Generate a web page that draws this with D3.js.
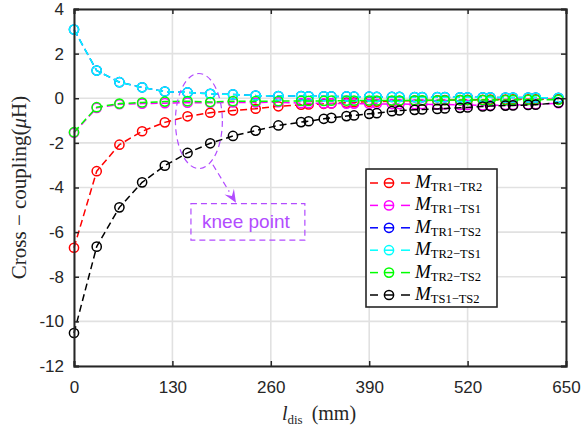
<!DOCTYPE html>
<html><head><meta charset="utf-8">
<script src="https://cdn.jsdelivr.net/npm/d3@7"></script>
<style>body{margin:0;background:#fff}svg{display:block}</style>
</head><body>
<svg id="c" width="581" height="429"></svg>
<script>
// ---------- data ----------
const xs = [0,30,60,90,120,150,180,210,240,270,300,310,330,340,360,370,390,400,420,430,450,460,480,490,510,520,540,550,570,580,600,610,640];
const mTR1TR2 = [-6.70,-3.27,-2.08,-1.48,-1.08,-0.81,-0.65,-0.55,-0.47,-0.36,-0.29,-0.28,-0.25,-0.23,-0.20,-0.18,-0.16,-0.15,-0.13,-0.12,-0.11,-0.10,-0.09,-0.08,-0.08,-0.07,-0.07,-0.06,-0.06,-0.05,-0.05,-0.05,-0.04];
const mTR1TS1 = [-1.55,-0.43,-0.27,-0.24,-0.22,-0.20,-0.20,-0.19,-0.19,-0.18,-0.22,-0.22,-0.23,-0.23,-0.24,-0.24,-0.25,-0.25,-0.26,-0.26,-0.27,-0.27,-0.28,-0.28,-0.30,-0.30,-0.32,-0.32,-0.30,-0.30,-0.28,-0.27,-0.22];
const mTR1TS2 = [3.08,1.24,0.72,0.49,0.30,0.26,0.20,0.17,0.12,0.10,0.10,0.09,0.09,0.08,0.08,0.07,0.07,0.06,0.06,0.06,0.05,0.05,0.05,0.05,0.04,0.04,0.04,0.04,0.03,0.03,0.03,0.03,0.02];
const mTR2TS1 = [3.08,1.24,0.72,0.49,0.30,0.26,0.20,0.17,0.12,0.10,0.10,0.09,0.09,0.08,0.08,0.07,0.07,0.06,0.06,0.06,0.05,0.05,0.05,0.05,0.04,0.04,0.04,0.04,0.03,0.03,0.03,0.03,0.02];
const mTR2TS2 = [-1.52,-0.40,-0.24,-0.19,-0.15,-0.13,-0.17,-0.13,-0.13,-0.13,-0.12,-0.12,-0.12,-0.11,-0.11,-0.11,-0.10,-0.10,-0.10,-0.10,-0.09,-0.09,-0.09,-0.09,-0.08,-0.08,-0.08,-0.08,-0.08,-0.07,-0.07,-0.07,-0.07];
const mTS1TS2 = [-10.52,-6.65,-4.89,-3.77,-3.02,-2.45,-2.02,-1.69,-1.45,-1.22,-1.07,-1.03,-0.92,-0.88,-0.80,-0.77,-0.70,-0.67,-0.58,-0.55,-0.52,-0.50,-0.48,-0.46,-0.43,-0.41,-0.37,-0.35,-0.33,-0.32,-0.30,-0.29,-0.20];
const seriesNames = ["TR1\u2212TR2","TR1\u2212TS1","TR1\u2212TS2","TR2\u2212TS1","TR2\u2212TS2","TS1\u2212TS2"];
const seriesValues = [mTR1TR2, mTR1TS1, mTR1TS2, mTR2TS1, mTR2TS2, mTS1TS2];
const seriesColors = ["#ff0000","#ff00ff","#0000ff","#00ffff","#00ff00","#000000"];
const xTicks = [0,130,260,390,520,650];
const yTicks = [-12,-10,-8,-6,-4,-2,0,2,4];
const annotText = "knee point";
// annotation geometry in data units
const kneeEllipse = {cx:165, cy:-1.02, rx:31, ry:2.13};
const kneeArrow = {x1:183.5, y1:-2.98, x2:214, y2:-4.68};
const kneeBox = {x1:154.5, y1:-4.72, x2:305, y2:-6.36};

// ---------- layout ----------
const L = 74, R = 566, T = 9, B = 366;
const svg = d3.select("#c");
const x = d3.scaleLinear().domain([0,650]).range([L,R]);
const y = d3.scaleLinear().domain([-12,4]).range([B,T]);
const axisCol = "#262626", annCol = "#b24cff";

// grid
const g = svg.append("g");
g.selectAll(".gx").data(xTicks).join("line")
  .attr("x1",d=>x(d)).attr("x2",d=>x(d)).attr("y1",T).attr("y2",B)
  .attr("stroke","#e1e1e1").attr("stroke-width",1.6);
g.selectAll(".gy").data(yTicks).join("line")
  .attr("y1",d=>y(d)).attr("y2",d=>y(d)).attr("x1",L).attr("x2",R)
  .attr("stroke","#e1e1e1").attr("stroke-width",1.6);

// series
const lineGen = d3.line().x((d,i)=>x(xs[i])).y(d=>y(d));
seriesValues.forEach((vals,k)=>{
  const sg = svg.append("g");
  sg.append("path").attr("d",lineGen(vals)).attr("fill","none")
    .attr("stroke",seriesColors[k]).attr("stroke-width",1.5).attr("stroke-dasharray","7,4");
  sg.selectAll("circle").data(vals).join("circle")
    .attr("cx",(d,i)=>x(xs[i])).attr("cy",d=>y(d)).attr("r",4.6)
    .attr("fill","none").attr("stroke",seriesColors[k]).attr("stroke-width",1.5);
});

// axes
const fontSans = "'Liberation Sans', Arial, sans-serif";
const ax = svg.append("g").attr("transform",`translate(0,${B})`)
  .call(d3.axisBottom(x).tickValues(xTicks).tickSize(-5).tickPadding(15).tickFormat(d3.format("d")));
const axT = svg.append("g").attr("transform",`translate(0,${T})`)
  .call(d3.axisTop(x).tickValues(xTicks).tickSize(-5).tickFormat(""));
const ay = svg.append("g").attr("transform",`translate(${L},0)`)
  .call(d3.axisLeft(y).tickValues(yTicks).tickSize(-5).tickPadding(10).tickFormat(d=>String(d)));
const ayR = svg.append("g").attr("transform",`translate(${R},0)`)
  .call(d3.axisRight(y).tickValues(yTicks).tickSize(-5).tickFormat(""));
[ax,axT,ay,ayR].forEach(a=>{
  a.select(".domain").attr("stroke",axisCol).attr("stroke-width",2);
  a.selectAll(".tick line").attr("stroke",axisCol).attr("stroke-width",1.5);
  a.selectAll("text").attr("fill","#262626").style("font-family",fontSans).style("font-size","17px");
});

// axis labels
const fontSerif = "'Liberation Serif', 'Times New Roman', serif";
const xl = svg.append("text").attr("x",319).attr("y",420).attr("text-anchor","middle")
  .style("font-family",fontSerif).style("font-size","20px").attr("fill","#262626");
xl.append("tspan").style("font-style","italic").text("l");
xl.append("tspan").attr("dy",4).style("font-size","13px").text("dis");
xl.append("tspan").attr("dy",-4).text("\u2009 (mm)");

const yl = svg.append("text").attr("transform",`translate(26,${(T+B)/2}) rotate(-90)`)
  .attr("text-anchor","middle").style("font-family",fontSerif).style("font-size","21px").attr("fill","#262626");
yl.append("tspan").text("Cross \u2212 coupling(");
yl.append("tspan").style("font-style","italic").text("\u03bc");
yl.append("tspan").text("H)");

// annotation
svg.append("ellipse").attr("cx",x(kneeEllipse.cx)).attr("cy",y(kneeEllipse.cy))
  .attr("rx",x(kneeEllipse.rx)-x(0)).attr("ry",y(0)-y(kneeEllipse.ry))
  .attr("fill","none").attr("stroke",annCol).attr("stroke-width",1.2).attr("stroke-dasharray","6,4");
const ax1=x(kneeArrow.x1), ay1=y(kneeArrow.y1), ax2=x(kneeArrow.x2), ay2=y(kneeArrow.y2);
const ang = Math.atan2(ay2-ay1, ax2-ax1);
const hl = 13, hw = 5.5;
const bx = ax2-hl*Math.cos(ang), by = ay2-hl*Math.sin(ang);
svg.append("line").attr("x1",ax1).attr("y1",ay1).attr("x2",bx).attr("y2",by)
  .attr("stroke",annCol).attr("stroke-width",1.2).attr("stroke-dasharray","6,4");
svg.append("path").attr("d",`M${ax2},${ay2} L${bx+hw*Math.sin(ang)},${by-hw*Math.cos(ang)} L${ax2-0.6*hl*Math.cos(ang)},${ay2-0.6*hl*Math.sin(ang)} L${bx-hw*Math.sin(ang)},${by+hw*Math.cos(ang)} Z`)
  .attr("fill",annCol);
svg.append("rect").attr("x",x(kneeBox.x1)).attr("y",y(kneeBox.y1))
  .attr("width",x(kneeBox.x2)-x(kneeBox.x1)).attr("height",y(kneeBox.y2)-y(kneeBox.y1))
  .attr("fill","none").attr("stroke",annCol).attr("stroke-width",1.2).attr("stroke-dasharray","6,4");
svg.append("text").attr("x",(x(kneeBox.x1)+x(kneeBox.x2))/2 - 2).attr("y",(y(kneeBox.y1)+y(kneeBox.y2))/2+6)
  .attr("text-anchor","middle").style("font-family",fontSans).style("font-size","19px")
  .attr("fill",annCol).text(annotText);

// legend
const lgX = 366, lgY = 169, lgW = 131, lgH = 138, rowH = 22.4;
const lg = svg.append("g");
lg.append("rect").attr("x",lgX).attr("y",lgY).attr("width",lgW).attr("height",lgH)
  .attr("fill","#fff").attr("stroke",axisCol).attr("stroke-width",1.6);
seriesNames.forEach((nm,k)=>{
  const cy = lgY + 14 + k*rowH;
  lg.append("line").attr("x1",lgX+4).attr("x2",lgX+12).attr("y1",cy).attr("y2",cy)
    .attr("stroke",seriesColors[k]).attr("stroke-width",1.5);
  lg.append("line").attr("x1",lgX+35).attr("x2",lgX+44).attr("y1",cy).attr("y2",cy)
    .attr("stroke",seriesColors[k]).attr("stroke-width",1.5);
  lg.append("circle").attr("cx",lgX+23).attr("cy",cy).attr("r",4.6).attr("fill","none")
    .attr("stroke",seriesColors[k]).attr("stroke-width",1.5);
  lg.append("line").attr("x1",lgX+18).attr("x2",lgX+28).attr("y1",cy).attr("y2",cy)
    .attr("stroke",seriesColors[k]).attr("stroke-width",1.5);
  const t = lg.append("text").attr("x",lgX+49).attr("y",cy+5)
    .style("font-family",fontSerif).attr("fill","#000");
  t.append("tspan").style("font-style","italic").style("font-size","19px").text("M");
  t.append("tspan").attr("dy",3).style("font-size","12.5px").text(nm);
});
</script>
</body></html>
